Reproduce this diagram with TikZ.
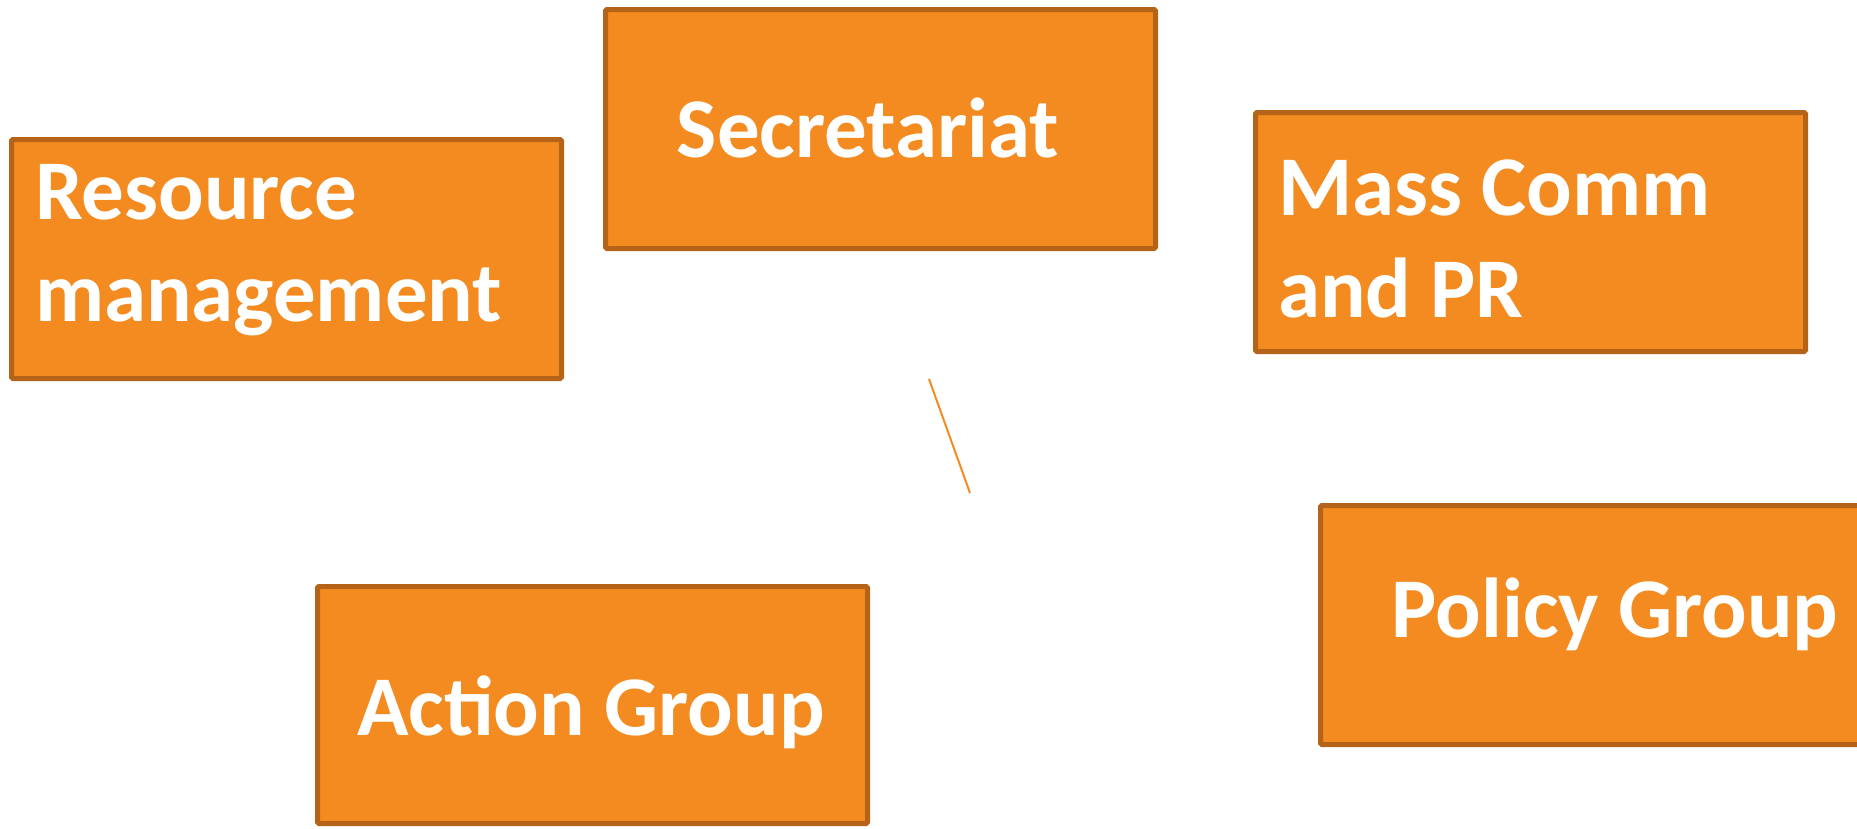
\documentclass[tikz,border=0pt]{standalone}
\usepackage{fontspec}
\setmainfont{Carlito}
\definecolor{boxfill}{RGB}{243,139,32}
\definecolor{boxline}{RGB}{181,99,24}
\definecolor{linkcol}{RGB}{243,139,32}
\tikzset{
  orgbox/.style={draw=boxline, fill=boxfill, line width=5pt, rounded corners=1.5pt,
    rectangle, inner sep=0pt, outer sep=0pt, anchor=north west,
    minimum width=550pt, minimum height=239pt},
  orglabel/.style={text=white, inner sep=0pt, outer sep=0pt, anchor=base west, align=left,
    font=\fontsize{85}{102}\selectfont\bfseries},
  linkline/.style={draw=linkcol, line width=2pt}
}
\begin{document}
\begin{tikzpicture}[x=1pt,y=-1pt]
\useasboundingbox (0,0) rectangle (1857,828);
\clip (0,0) rectangle (1857,828);
\node[orgbox] (sec) at (605.5,9.5) {};
\node[orgbox] (res) at (11.5,139.5) {};
\node[orgbox] (mass) at (1255.5,112.5) {};
\node[orgbox] (pol) at (1320.5,505.5) {};
\node[orgbox, minimum height=237pt] (act) at (317.5,586.5) {};
\node[orglabel, anchor=base] (secT) at (868,157) {Secretariat};
\node[orglabel] (resT) at (35,321) {Resource\\management};
\node[orglabel] (massT) at (1278,317) {Mass Comm\\and PR};
\node[orglabel, anchor=base] (polT) at (1615,637) {Policy Group};
\node[orglabel, anchor=base] (actT) at (591,735) {Action Group};
\coordinate (l1) at (929,379);
\coordinate (l2) at (970,493);
\draw[linkline] (l1) -- (l2);
\end{tikzpicture}
\end{document}
